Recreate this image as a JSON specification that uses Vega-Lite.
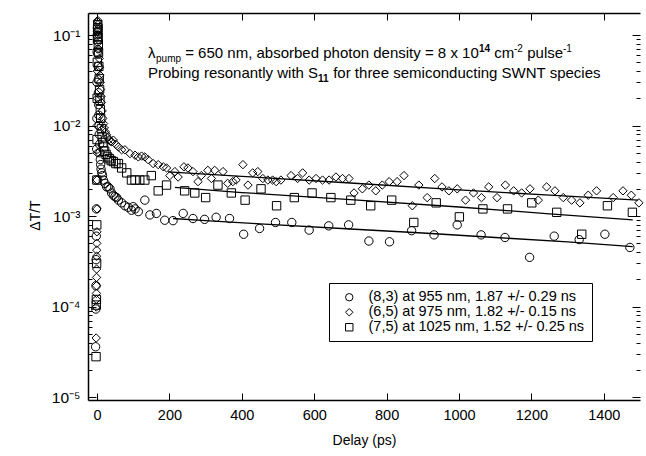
{
  "$schema": "https://vega.github.io/schema/vega-lite/v6.json",
  "width": 552,
  "height": 387,
  "autosize": "none",
  "padding": {"left": 88, "top": 13, "right": 6, "bottom": 56},
  "background": "white",
  "config": {
    "view": {"stroke": null},
    "axis": {"labelFont": "Liberation Sans", "titleFont": "Liberation Sans", "labelColor": "black", "titleColor": "black", "tickColor": "black", "domainColor": "black", "grid": false},
    "text": {"font": "Liberation Sans"}
  },
  "datasets": {
    "pts": [
      {"s":"(8,3)","x":-4,"y":3.6e-5},{"s":"(8,3)","x":-3.5,"y":9.4e-5},{"s":"(8,3)","x":-3,"y":1.7e-4},{"s":"(8,3)","x":-2.6,"y":3.3e-4},{"s":"(8,3)","x":-2.2,"y":6e-4},{"s":"(8,3)","x":-1.8,"y":1.2e-3},{"s":"(8,3)","x":-1.4,"y":2.5e-3},{"s":"(8,3)","x":-1,"y":5.5e-3},{"s":"(8,3)","x":-0.6,"y":0.012},{"s":"(8,3)","x":-0.2,"y":0.03},{"s":"(8,3)","x":0.2,"y":0.065},{"s":"(8,3)","x":0.6,"y":0.1},{"s":"(8,3)","x":1,"y":0.12},{"s":"(8,3)","x":1.5,"y":0.11},{"s":"(8,3)","x":2,"y":0.085},{"s":"(8,3)","x":2.5,"y":0.062},{"s":"(8,3)","x":3,"y":0.045},{"s":"(8,3)","x":3.5,"y":0.032},{"s":"(8,3)","x":4,"y":0.023},{"s":"(8,3)","x":4.5,"y":0.017},{"s":"(8,3)","x":5,"y":0.013},{"s":"(8,3)","x":5.5,"y":0.01},{"s":"(8,3)","x":6,"y":0.008},{"s":"(8,3)","x":7,"y":0.0062},{"s":"(8,3)","x":8,"y":0.005},{"s":"(8,3)","x":9,"y":0.0042},{"s":"(8,3)","x":10,"y":0.0037},{"s":"(8,3)","x":11,"y":0.0033},{"s":"(8,3)","x":13,"y":0.003},{"s":"(8,3)","x":15,"y":0.0028},{"s":"(8,3)","x":17.4,"y":0.0025},{"s":"(8,3)","x":22,"y":0.0023},{"s":"(8,3)","x":26.6,"y":0.0021},{"s":"(8,3)","x":31,"y":0.0021},{"s":"(8,3)","x":35.8,"y":0.002},{"s":"(8,3)","x":40,"y":0.0018},{"s":"(8,3)","x":45,"y":0.0017},{"s":"(8,3)","x":49.5,"y":0.00164},{"s":"(8,3)","x":54,"y":0.0016},{"s":"(8,3)","x":59,"y":0.0015},{"s":"(8,3)","x":68,"y":0.0014},{"s":"(8,3)","x":77,"y":0.0013},{"s":"(8,3)","x":86,"y":0.00125},{"s":"(8,3)","x":95,"y":0.00116},{"s":"(8,3)","x":100,"y":0.00127},{"s":"(8,3)","x":105,"y":0.0012},{"s":"(8,3)","x":114,"y":0.00112},{"s":"(8,3)","x":132,"y":0.0015},{"s":"(8,3)","x":146,"y":0.00103},{"s":"(8,3)","x":164,"y":0.00107},{"s":"(8,3)","x":187,"y":0.0009},{"s":"(8,3)","x":210,"y":0.00089},{"s":"(8,3)","x":238,"y":0.00107},{"s":"(8,3)","x":265,"y":0.00094},{"s":"(8,3)","x":297,"y":0.00092},{"s":"(8,3)","x":329,"y":0.00097},{"s":"(8,3)","x":366,"y":0.00094},{"s":"(8,3)","x":405,"y":0.00063},{"s":"(8,3)","x":449,"y":0.00073},{"s":"(8,3)","x":493,"y":0.00085},{"s":"(8,3)","x":538,"y":0.00085},{"s":"(8,3)","x":586,"y":0.0007},{"s":"(8,3)","x":640,"y":0.00078},{"s":"(8,3)","x":695,"y":0.0008},{"s":"(8,3)","x":751,"y":0.00053},{"s":"(8,3)","x":808,"y":0.00052},{"s":"(8,3)","x":869,"y":0.00069},{"s":"(8,3)","x":931,"y":0.00062},{"s":"(8,3)","x":995,"y":0.0008},{"s":"(8,3)","x":1061,"y":0.00062},{"s":"(8,3)","x":1127,"y":0.00058},{"s":"(8,3)","x":1195,"y":0.00035},{"s":"(8,3)","x":1263,"y":0.0006},{"s":"(8,3)","x":1332,"y":0.00055},{"s":"(8,3)","x":1403,"y":0.00063},{"s":"(8,3)","x":1472,"y":0.00045},

      {"s":"(6,5)","x":-2.4,"y":4.5e-5},{"s":"(6,5)","x":-2.2,"y":9.9e-5},{"s":"(6,5)","x":-2,"y":1.2e-4},{"s":"(6,5)","x":-1.8,"y":1.4e-4},{"s":"(6,5)","x":-1.6,"y":1.7e-4},{"s":"(6,5)","x":-1.4,"y":2.1e-4},{"s":"(6,5)","x":-1.2,"y":2.6e-4},{"s":"(6,5)","x":-1,"y":3.6e-4},{"s":"(6,5)","x":-0.8,"y":4.2e-4},{"s":"(6,5)","x":-0.6,"y":5e-4},{"s":"(6,5)","x":-0.4,"y":6.7e-4},{"s":"(6,5)","x":-0.2,"y":1.2e-3},{"s":"(6,5)","x":0,"y":2.5e-3},{"s":"(6,5)","x":0.2,"y":5e-3},{"s":"(6,5)","x":0.4,"y":0.01},{"s":"(6,5)","x":0.6,"y":0.02},{"s":"(6,5)","x":0.8,"y":0.04},{"s":"(6,5)","x":1,"y":0.07},{"s":"(6,5)","x":1.3,"y":0.11},{"s":"(6,5)","x":1.6,"y":0.14},{"s":"(6,5)","x":2,"y":0.145},{"s":"(6,5)","x":2.5,"y":0.13},{"s":"(6,5)","x":3,"y":0.115},{"s":"(6,5)","x":3.5,"y":0.1},{"s":"(6,5)","x":4,"y":0.088},{"s":"(6,5)","x":5,"y":0.07},{"s":"(6,5)","x":6,"y":0.055},{"s":"(6,5)","x":7,"y":0.044},{"s":"(6,5)","x":8,"y":0.036},{"s":"(6,5)","x":9,"y":0.03},{"s":"(6,5)","x":10,"y":0.025},{"s":"(6,5)","x":11,"y":0.021},{"s":"(6,5)","x":12,"y":0.018},{"s":"(6,5)","x":14,"y":0.0145},{"s":"(6,5)","x":16,"y":0.012},{"s":"(6,5)","x":18,"y":0.0105},{"s":"(6,5)","x":20,"y":0.0094},{"s":"(6,5)","x":23,"y":0.0085},{"s":"(6,5)","x":26,"y":0.0079},{"s":"(6,5)","x":29,"y":0.0074},{"s":"(6,5)","x":33,"y":0.007},{"s":"(6,5)","x":37,"y":0.0067},{"s":"(6,5)","x":41,"y":0.0066},{"s":"(6,5)","x":45,"y":0.0069},{"s":"(6,5)","x":52,"y":0.0062},{"s":"(6,5)","x":59,"y":0.0058},{"s":"(6,5)","x":68,"y":0.0054},{"s":"(6,5)","x":77,"y":0.0054},{"s":"(6,5)","x":91,"y":0.0049},{"s":"(6,5)","x":105,"y":0.0047},{"s":"(6,5)","x":114,"y":0.0045},{"s":"(6,5)","x":123,"y":0.0046},{"s":"(6,5)","x":132,"y":0.0045},{"s":"(6,5)","x":141,"y":0.0042},{"s":"(6,5)","x":155,"y":0.0038},{"s":"(6,5)","x":169,"y":0.0037},{"s":"(6,5)","x":183,"y":0.0035},{"s":"(6,5)","x":192,"y":0.0034},{"s":"(6,5)","x":201,"y":0.0028},{"s":"(6,5)","x":215,"y":0.0031},{"s":"(6,5)","x":224,"y":0.0027},{"s":"(6,5)","x":240,"y":0.0035},{"s":"(6,5)","x":251,"y":0.0034},{"s":"(6,5)","x":265,"y":0.0031},{"s":"(6,5)","x":279,"y":0.0024},{"s":"(6,5)","x":288,"y":0.0028},{"s":"(6,5)","x":306,"y":0.0032},{"s":"(6,5)","x":316,"y":0.0026},{"s":"(6,5)","x":325,"y":0.0032},{"s":"(6,5)","x":348,"y":0.0031},{"s":"(6,5)","x":361,"y":0.0023},{"s":"(6,5)","x":375,"y":0.0024},{"s":"(6,5)","x":384,"y":0.0025},{"s":"(6,5)","x":403,"y":0.0037},{"s":"(6,5)","x":417,"y":0.0022},{"s":"(6,5)","x":430,"y":0.003},{"s":"(6,5)","x":444,"y":0.0031},{"s":"(6,5)","x":458,"y":0.0026},{"s":"(6,5)","x":472,"y":0.0025},{"s":"(6,5)","x":485,"y":0.0025},{"s":"(6,5)","x":495,"y":0.0024},{"s":"(6,5)","x":508,"y":0.0025},{"s":"(6,5)","x":536,"y":0.0028},{"s":"(6,5)","x":554,"y":0.0026},{"s":"(6,5)","x":568,"y":0.003},{"s":"(6,5)","x":586,"y":0.0025},{"s":"(6,5)","x":605,"y":0.0026},{"s":"(6,5)","x":623,"y":0.0025},{"s":"(6,5)","x":641,"y":0.0025},{"s":"(6,5)","x":660,"y":0.0027},{"s":"(6,5)","x":678,"y":0.0026},{"s":"(6,5)","x":696,"y":0.0026},{"s":"(6,5)","x":710,"y":0.0018},{"s":"(6,5)","x":733,"y":0.002},{"s":"(6,5)","x":751,"y":0.0022},{"s":"(6,5)","x":770,"y":0.0019},{"s":"(6,5)","x":788,"y":0.0022},{"s":"(6,5)","x":807,"y":0.0024},{"s":"(6,5)","x":829,"y":0.0024},{"s":"(6,5)","x":848,"y":0.0028},{"s":"(6,5)","x":871,"y":0.0013},{"s":"(6,5)","x":889,"y":0.0022},{"s":"(6,5)","x":912,"y":0.0016},{"s":"(6,5)","x":933,"y":0.0026},{"s":"(6,5)","x":953,"y":0.0021},{"s":"(6,5)","x":972,"y":0.0019},{"s":"(6,5)","x":995,"y":0.002},{"s":"(6,5)","x":1018,"y":0.0015},{"s":"(6,5)","x":1040,"y":0.0018},{"s":"(6,5)","x":1062,"y":0.0016},{"s":"(6,5)","x":1082,"y":0.0021},{"s":"(6,5)","x":1105,"y":0.0016},{"s":"(6,5)","x":1128,"y":0.0022},{"s":"(6,5)","x":1151,"y":0.0019},{"s":"(6,5)","x":1173,"y":0.0018},{"s":"(6,5)","x":1196,"y":0.002},{"s":"(6,5)","x":1219,"y":0.0015},{"s":"(6,5)","x":1242,"y":0.0021},{"s":"(6,5)","x":1265,"y":0.0019},{"s":"(6,5)","x":1288,"y":0.0016},{"s":"(6,5)","x":1311,"y":0.0015},{"s":"(6,5)","x":1334,"y":0.0014},{"s":"(6,5)","x":1357,"y":0.0017},{"s":"(6,5)","x":1380,"y":0.0019},{"s":"(6,5)","x":1426,"y":0.0016},{"s":"(6,5)","x":1453,"y":0.0019},{"s":"(6,5)","x":1476,"y":0.0017},{"s":"(6,5)","x":1497,"y":0.0014},

      {"s":"(7,5)","x":-2.8,"y":2.8e-5},{"s":"(7,5)","x":-2.2,"y":1.04e-4},{"s":"(7,5)","x":-1.8,"y":1.2e-4},{"s":"(7,5)","x":-1.2,"y":3e-4},{"s":"(7,5)","x":-0.8,"y":8e-4},{"s":"(7,5)","x":-0.4,"y":2.5e-3},{"s":"(7,5)","x":0,"y":7e-3},{"s":"(7,5)","x":0.4,"y":0.02},{"s":"(7,5)","x":0.8,"y":0.05},{"s":"(7,5)","x":1.2,"y":0.09},{"s":"(7,5)","x":1.6,"y":0.12},{"s":"(7,5)","x":2,"y":0.13},{"s":"(7,5)","x":2.5,"y":0.115},{"s":"(7,5)","x":3,"y":0.095},{"s":"(7,5)","x":3.5,"y":0.078},{"s":"(7,5)","x":4,"y":0.064},{"s":"(7,5)","x":5,"y":0.045},{"s":"(7,5)","x":6,"y":0.033},{"s":"(7,5)","x":7,"y":0.025},{"s":"(7,5)","x":8,"y":0.019},{"s":"(7,5)","x":9,"y":0.015},{"s":"(7,5)","x":10,"y":0.012},{"s":"(7,5)","x":12,"y":0.0092},{"s":"(7,5)","x":14,"y":0.0075},{"s":"(7,5)","x":16,"y":0.0065},{"s":"(7,5)","x":18,"y":0.0058},{"s":"(7,5)","x":21,"y":0.0052},{"s":"(7,5)","x":25,"y":0.0048},{"s":"(7,5)","x":29,"y":0.0045},{"s":"(7,5)","x":34,"y":0.0043},{"s":"(7,5)","x":39,"y":0.0041},{"s":"(7,5)","x":45,"y":0.004},{"s":"(7,5)","x":52,"y":0.0038},{"s":"(7,5)","x":59,"y":0.0038},{"s":"(7,5)","x":68,"y":0.0034},{"s":"(7,5)","x":82,"y":0.003},{"s":"(7,5)","x":95,"y":0.0025},{"s":"(7,5)","x":105,"y":0.0025},{"s":"(7,5)","x":118,"y":0.0025},{"s":"(7,5)","x":132,"y":0.0025},{"s":"(7,5)","x":150,"y":0.0028},{"s":"(7,5)","x":169,"y":0.0019},{"s":"(7,5)","x":192,"y":0.0022},{"s":"(7,5)","x":242,"y":0.0019},{"s":"(7,5)","x":270,"y":0.0018},{"s":"(7,5)","x":300,"y":0.0016},{"s":"(7,5)","x":334,"y":0.0022},{"s":"(7,5)","x":371,"y":0.0018},{"s":"(7,5)","x":409,"y":0.0015},{"s":"(7,5)","x":453,"y":0.002},{"s":"(7,5)","x":496,"y":0.0013},{"s":"(7,5)","x":545,"y":0.0016},{"s":"(7,5)","x":594,"y":0.0018},{"s":"(7,5)","x":646,"y":0.0016},{"s":"(7,5)","x":701,"y":0.0015},{"s":"(7,5)","x":756,"y":0.0013},{"s":"(7,5)","x":814,"y":0.0015},{"s":"(7,5)","x":875,"y":0.00085},{"s":"(7,5)","x":937,"y":0.0014},{"s":"(7,5)","x":1001,"y":0.00098},{"s":"(7,5)","x":1066,"y":0.0012},{"s":"(7,5)","x":1134,"y":0.0012},{"s":"(7,5)","x":1201,"y":0.0014},{"s":"(7,5)","x":1270,"y":0.0011},{"s":"(7,5)","x":1339,"y":0.00063},{"s":"(7,5)","x":1410,"y":0.0013},{"s":"(7,5)","x":1479,"y":0.0011}
    ],
    "fits": [
      {"s":"(8,3)","x":210,"y":0.00094},{"s":"(8,3)","x":300,"y":0.00089},{"s":"(8,3)","x":450,"y":0.00082},{"s":"(8,3)","x":700,"y":0.00072},{"s":"(8,3)","x":900,"y":0.00065},{"s":"(8,3)","x":1100,"y":0.00058},{"s":"(8,3)","x":1300,"y":0.00052},{"s":"(8,3)","x":1480,"y":0.00046},
      {"s":"(6,5)","x":196,"y":0.00308},{"s":"(6,5)","x":400,"y":0.00275},{"s":"(6,5)","x":700,"y":0.00232},{"s":"(6,5)","x":1000,"y":0.00195},{"s":"(6,5)","x":1250,"y":0.0017},{"s":"(6,5)","x":1495,"y":0.0015},
      {"s":"(7,5)","x":215,"y":0.00208},{"s":"(7,5)","x":400,"y":0.00182},{"s":"(7,5)","x":700,"y":0.00152},{"s":"(7,5)","x":1000,"y":0.00126},{"s":"(7,5)","x":1250,"y":0.00106},{"s":"(7,5)","x":1480,"y":0.00091}
    ]
  },
  "resolve": {"axis": {"x": "independent", "y": "independent"}},
  "layer": [
    {
      "data": {"name": "pts"},
      "mark": {"type": "point", "filled": false, "color": "black", "strokeWidth": 1, "size": 70, "opacity": 1},
      "encoding": {
        "x": {"field": "x", "type": "quantitative", "scale": {"domain": [-25, 1500], "nice": false, "zero": false},
          "axis": {"orient": "bottom", "values": [0,200,400,600,800,1000,1200,1400], "format": "d", "tickSize": -7, "tickWidth": 1, "labelPadding": 15, "labelFontSize": 14.5, "labelFlush": false, "domainWidth": 1.5, "title": "Delay (ps)", "titleFontSize": 14, "titleFontWeight": "normal", "titleX": 276, "titleY": 40, "titleBaseline": "middle", "titleAlign": "center"}},
        "y": {"field": "y", "type": "quantitative", "scale": {"type": "log", "domain": [0.0000093, 0.175], "nice": false},
          "axis": {"orient": "left",
            "values": [0.00001,0.00002,0.00003,0.00004,0.00005,0.00006,0.00007,0.00008,0.00009,0.0001,0.0002,0.0003,0.0004,0.0005,0.0006,0.0007,0.0008,0.0009,0.001,0.002,0.003,0.004,0.005,0.006,0.007,0.008,0.009,0.01,0.02,0.03,0.04,0.05,0.06,0.07,0.08,0.09,0.1],
            "tickSize": {"condition": {"test": "indexof([0.00001,0.0001,0.001,0.01,0.1], datum.value) >= 0", "value": -8}, "value": -4},
            "tickWidth": 1,
            "labelExpr": "datum.value == 0.1 ? '10⁻¹' : datum.value == 0.01 ? '10⁻²' : datum.value == 0.001 ? '10⁻³' : datum.value == 0.0001 ? '10⁻⁴' : datum.value == 0.00001 ? '10⁻⁵' : ''",
            "labelPadding": 16, "labelFontSize": 15.5, "labelOverlap": false, "labelFlush": false, "domainWidth": 1.5,
            "title": "ΔT/T", "titleFontSize": 14, "titleFontWeight": "normal", "titleX": -53, "titleY": 202, "titleAlign": "center", "titleBaseline": "middle"}},
        "shape": {"field": "s", "type": "nominal",
          "scale": {"domain": ["(8,3)", "(6,5)", "(7,5)"], "range": ["circle", "diamond", "square"]},
          "legend": {"orient": "none", "legendX": 241, "legendY": 270, "title": null, "strokeColor": "black", "fillColor": "white", "padding": 7,
            "labelFontSize": 14.5, "labelFont": "Liberation Sans", "labelColor": "black", "labelLimit": 0, "symbolStrokeColor": "black", "symbolStrokeWidth": 1, "symbolSize": 55, "symbolFillColor": "transparent", "rowPadding": 0, "symbolOffset": 6, "labelOffset": 12,
            "labelExpr": "datum.label == '(8,3)' ? '(8,3) at 955 nm, 1.87 +/- 0.29 ns' : datum.label == '(6,5)' ? '(6,5) at 975 nm, 1.82 +/- 0.15 ns' : '(7,5) at 1025 nm, 1.52 +/- 0.25 ns'"}}
      }
    },
    {
      "data": {"name": "fits"},
      "mark": {"type": "line", "color": "black", "strokeWidth": 1.3},
      "encoding": {
        "x": {"field": "x", "type": "quantitative", "scale": {"domain": [-25, 1500], "nice": false, "zero": false},
          "axis": {"orient": "top", "values": [0,200,400,600,800,1000,1200,1400], "tickSize": -7, "labels": false, "title": null, "domainWidth": 1.5}},
        "y": {"field": "y", "type": "quantitative", "scale": {"type": "log", "domain": [0.0000093, 0.175], "nice": false},
          "axis": {"orient": "right",
            "values": [0.00001,0.00002,0.00003,0.00004,0.00005,0.00006,0.00007,0.00008,0.00009,0.0001,0.0002,0.0003,0.0004,0.0005,0.0006,0.0007,0.0008,0.0009,0.001,0.002,0.003,0.004,0.005,0.006,0.007,0.008,0.009,0.01,0.02,0.03,0.04,0.05,0.06,0.07,0.08,0.09,0.1],
            "tickSize": {"condition": {"test": "indexof([0.00001,0.0001,0.001,0.01,0.1], datum.value) >= 0", "value": -8}, "value": -4},
            "labels": false, "domain": false, "title": null}},
        "detail": {"field": "s"}
      }
    },
    {
      "data": {"values": [{}]},
      "layer": [
        {"mark": {"type": "text", "align": "left", "baseline": "alphabetic", "fontSize": 15, "color": "black"},
         "encoding": {"x": {"datum": 140.8, "type": "quantitative", "scale": {"domain": [-25, 1500], "nice": false, "zero": false}, "axis": null}, "y": {"datum": 0.0557, "type": "quantitative", "scale": {"type": "log", "domain": [0.0000093, 0.175], "nice": false}, "axis": null}, "text": {"value": "λ"}}},
        {"mark": {"type": "text", "align": "left", "baseline": "alphabetic", "fontSize": 10, "dy": 4, "color": "black"},
         "encoding": {"x": {"datum": 162.9, "type": "quantitative", "scale": {"domain": [-25, 1500], "nice": false, "zero": false}, "axis": null}, "y": {"datum": 0.0557, "type": "quantitative", "scale": {"type": "log", "domain": [0.0000093, 0.175], "nice": false}, "axis": null}, "text": {"value": "pump"}}},
        {"mark": {"type": "text", "align": "left", "baseline": "alphabetic", "fontSize": 15, "color": "black"},
         "encoding": {"x": {"datum": 243.5, "type": "quantitative", "scale": {"domain": [-25, 1500], "nice": false, "zero": false}, "axis": null}, "y": {"datum": 0.0557, "type": "quantitative", "scale": {"type": "log", "domain": [0.0000093, 0.175], "nice": false}, "axis": null}, "text": {"value": "= 650 nm, absorbed photon density = 8 x 10"}}},
        {"mark": {"type": "text", "align": "left", "baseline": "alphabetic", "fontSize": 10, "fontWeight": "bold", "dy": -6, "color": "black"},
         "encoding": {"x": {"datum": 1055.2, "type": "quantitative", "scale": {"domain": [-25, 1500], "nice": false, "zero": false}, "axis": null}, "y": {"datum": 0.0557, "type": "quantitative", "scale": {"type": "log", "domain": [0.0000093, 0.175], "nice": false}, "axis": null}, "text": {"value": "14"}}},
        {"mark": {"type": "text", "align": "left", "baseline": "alphabetic", "fontSize": 15, "color": "black"},
         "encoding": {"x": {"datum": 1097.2, "type": "quantitative", "scale": {"domain": [-25, 1500], "nice": false, "zero": false}, "axis": null}, "y": {"datum": 0.0557, "type": "quantitative", "scale": {"type": "log", "domain": [0.0000093, 0.175], "nice": false}, "axis": null}, "text": {"value": "cm"}}},
        {"mark": {"type": "text", "align": "left", "baseline": "alphabetic", "fontSize": 10, "dy": -6, "color": "black"},
         "encoding": {"x": {"datum": 1151.9, "type": "quantitative", "scale": {"domain": [-25, 1500], "nice": false, "zero": false}, "axis": null}, "y": {"datum": 0.0557, "type": "quantitative", "scale": {"type": "log", "domain": [0.0000093, 0.175], "nice": false}, "axis": null}, "text": {"value": "-2"}}},
        {"mark": {"type": "text", "align": "left", "baseline": "alphabetic", "fontSize": 15, "color": "black"},
         "encoding": {"x": {"datum": 1188.4, "type": "quantitative", "scale": {"domain": [-25, 1500], "nice": false, "zero": false}, "axis": null}, "y": {"datum": 0.0557, "type": "quantitative", "scale": {"type": "log", "domain": [0.0000093, 0.175], "nice": false}, "axis": null}, "text": {"value": "pulse"}}},
        {"mark": {"type": "text", "align": "left", "baseline": "alphabetic", "fontSize": 10, "dy": -6, "color": "black"},
         "encoding": {"x": {"datum": 1287.3, "type": "quantitative", "scale": {"domain": [-25, 1500], "nice": false, "zero": false}, "axis": null}, "y": {"datum": 0.0557, "type": "quantitative", "scale": {"type": "log", "domain": [0.0000093, 0.175], "nice": false}, "axis": null}, "text": {"value": "-1"}}},
        {"mark": {"type": "text", "align": "left", "baseline": "alphabetic", "fontSize": 15, "color": "black"},
         "encoding": {"x": {"datum": 140.8, "type": "quantitative", "scale": {"domain": [-25, 1500], "nice": false, "zero": false}, "axis": null}, "y": {"datum": 0.0335, "type": "quantitative", "scale": {"type": "log", "domain": [0.0000093, 0.175], "nice": false}, "axis": null}, "text": {"value": "Probing resonantly with S"}}},
        {"mark": {"type": "text", "align": "left", "baseline": "alphabetic", "fontSize": 10, "fontWeight": "bold", "dy": 4, "color": "black"},
         "encoding": {"x": {"datum": 610.4, "type": "quantitative", "scale": {"domain": [-25, 1500], "nice": false, "zero": false}, "axis": null}, "y": {"datum": 0.0335, "type": "quantitative", "scale": {"type": "log", "domain": [0.0000093, 0.175], "nice": false}, "axis": null}, "text": {"value": "11"}}},
        {"mark": {"type": "text", "align": "left", "baseline": "alphabetic", "fontSize": 15, "color": "black"},
         "encoding": {"x": {"datum": 652.4, "type": "quantitative", "scale": {"domain": [-25, 1500], "nice": false, "zero": false}, "axis": null}, "y": {"datum": 0.0335, "type": "quantitative", "scale": {"type": "log", "domain": [0.0000093, 0.175], "nice": false}, "axis": null}, "text": {"value": "for three semiconducting SWNT species"}}}
      ]
    }
  ]
}
